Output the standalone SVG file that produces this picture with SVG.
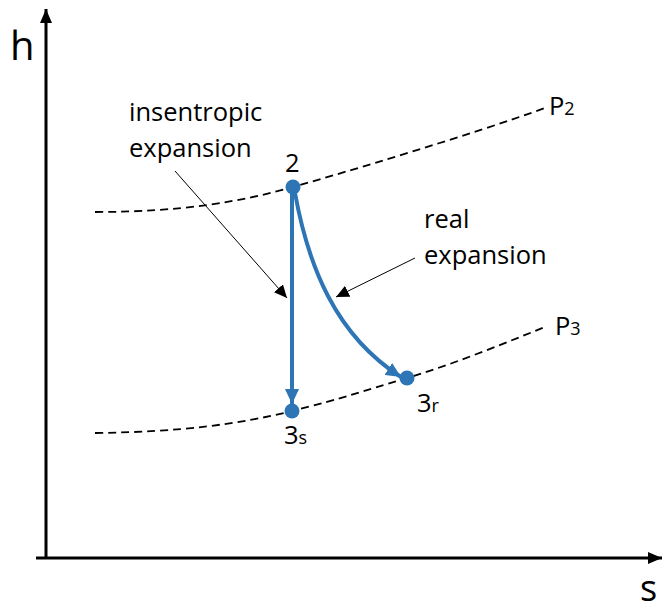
<svg xmlns="http://www.w3.org/2000/svg" width="663" height="613" viewBox="0 0 663 613">
<style>
text{font-family:"Open Sans","Noto Sans","DejaVu Sans",sans-serif;fill:#000}
.axis{stroke:#000;stroke-width:3;fill:none}
.iso{stroke:#000;stroke-width:1.8;fill:none;stroke-dasharray:8 5}
.proc{stroke:#2E75B6;stroke-width:4;fill:none}
.lead{stroke:#000;stroke-width:1;fill:none}
.dot{fill:#2E75B6}
.lbl{font-size:25.5px}
.sub{font-size:18px}
</style>
<defs>
<marker id="ah" markerUnits="userSpaceOnUse" markerWidth="16" markerHeight="12" refX="14" refY="6" orient="auto"><path d="M0,0 L14,6 L0,12 z" fill="#000"/></marker>
<marker id="lh" markerUnits="userSpaceOnUse" markerWidth="14" markerHeight="12" refX="13" refY="6" orient="auto"><path d="M0,0 L13,6 L0,12 z" fill="#000"/></marker>
<marker id="bh" markerUnits="userSpaceOnUse" markerWidth="16" markerHeight="14" refX="15" refY="7" orient="auto"><path d="M0,0 L15,7 L0,14 z" fill="#2E75B6"/></marker>
</defs>
<g id="axes">
<path class="axis" d="M46,558 V9" marker-end="url(#ah)"/>
<path class="axis" d="M36,558 H662" marker-end="url(#ah)"/>
<text x="10" y="60" style="font-size:40px">h</text>
<text x="640" y="601" style="font-size:36px">s</text>
</g>
<g id="isobars">
<path class="iso" d="M95,212 C180,212 240,202 293,187 S470,135 545,108"/>
<path class="iso" d="M95,433 C180,432 240,424 292,411 S360,392 407,378 S500,345 545,327"/>
<text x="549" y="115" class="lbl">P<tspan class="sub">2</tspan></text>
<text x="555" y="335" class="lbl">P<tspan class="sub">3</tspan></text>
</g>
<g id="connectors">
<path class="proc" d="M292,190 V404" marker-end="url(#bh)"/>
<path class="proc" d="M295,193 C308,265 335,335 401,377" marker-end="url(#bh)"/>
<path class="lead" d="M175,171 L287,298" marker-end="url(#lh)"/>
<path class="lead" d="M415,258 L336,297" marker-end="url(#lh)"/>
</g>
<g id="node-2">
<circle class="dot" cx="293" cy="187" r="7.5"/>
<text x="285" y="172" class="lbl">2</text>
</g>
<g id="node-3s">
<circle class="dot" cx="292" cy="411" r="7.5"/>
<text x="284" y="444" class="lbl">3<tspan class="sub">s</tspan></text>
</g>
<g id="node-3r">
<circle class="dot" cx="407" cy="378" r="7.5"/>
<text x="417" y="412" class="lbl">3<tspan class="sub">r</tspan></text>
</g>
<g id="label-insentropic">
<text x="129" y="121" class="lbl">insentropic</text>
<text x="129" y="157" class="lbl">expansion</text>
</g>
<g id="label-real">
<text x="424" y="228" class="lbl">real</text>
<text x="424" y="264" class="lbl">expansion</text>
</g>
</svg>
